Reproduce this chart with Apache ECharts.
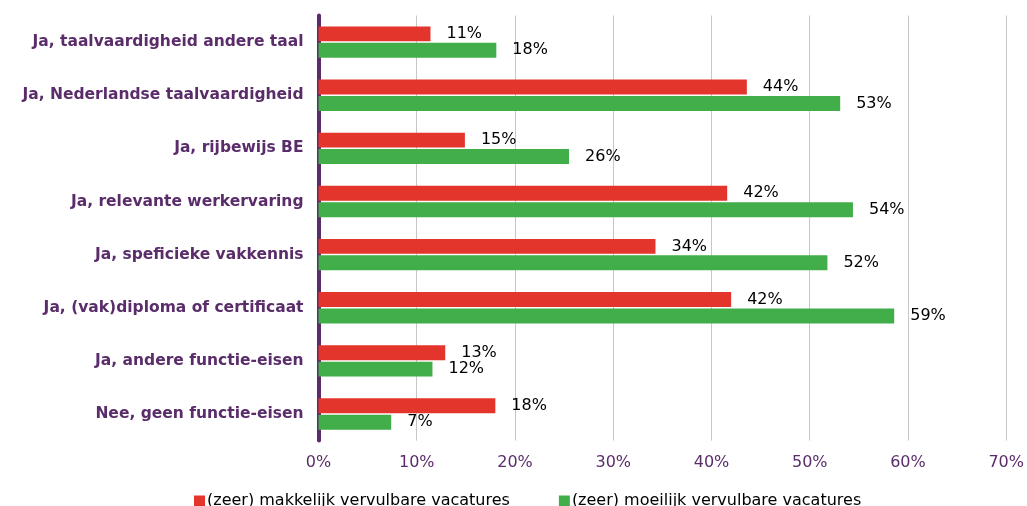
<!DOCTYPE html>
<html>
<head>
<meta charset="utf-8">
<script src="https://cdn.jsdelivr.net/npm/echarts@6/dist/echarts.min.js"></script>
<style>html,body{margin:0;padding:0;background:#fff}#c{width:1027px;height:506px}</style>
</head>
<body>
<div id="c"></div>
<script>
var categories = [
  "Ja, taalvaardigheid andere taal",
  "Ja, Nederlandse taalvaardigheid",
  "Ja, rijbewijs BE",
  "Ja, relevante werkervaring",
  "Ja, speficieke vakkennis",
  "Ja, (vak)diploma of certificaat",
  "Ja, andere functie-eisen",
  "Nee, geen functie-eisen"
];
var seriesNames = ["(zeer) makkelijk vervulbare vacatures", "(zeer) moeilijk vervulbare vacatures"];
var easyValues = [11.4, 43.6, 14.9, 41.6, 34.3, 42.0, 12.9, 18.0];
var hardValues = [18.1, 53.1, 25.5, 54.4, 51.8, 58.6, 11.6, 7.4];
var xTicks = [0, 10, 20, 30, 40, 50, 60, 70];

var FONT = "'DejaVu Sans', Verdana, sans-serif";
var purple = "#5a2d6a";
var chart = echarts.init(document.getElementById('c'), null, {renderer: 'canvas'});
var labelCfg = {
  show: true, position: 'right', distance: 16,
  color: '#000', fontFamily: FONT, fontSize: 16,
  formatter: function (p) { return Math.round(p.value) + '%'; }
};
chart.setOption({
  animation: false,
  grid: {left: 318.5, right: 19, top: 15.5, bottom: 65.4, containLabel: false},
  legend: {
    data: seriesNames, left: 189, top: 488, itemWidth: 11, itemHeight: 11, itemGap: 49,
    icon: 'rect',
    textStyle: {fontFamily: FONT, fontSize: 16, color: '#000', padding: [0, 0, 0, -3]}
  },
  xAxis: {
    type: 'value', min: xTicks[0], max: xTicks[xTicks.length - 1], interval: 10,
    axisLine: {show: false}, axisTick: {show: false},
    splitLine: {show: true, lineStyle: {color: '#c6c6c6', width: 1}},
    axisLabel: {formatter: '{value}%', color: purple, fontFamily: FONT, fontSize: 16, margin: 14}
  },
  yAxis: {
    type: 'category', data: categories, inverse: true,
    axisLine: {show: true, lineStyle: {color: purple, width: 4}},
    axisTick: {show: false},
    axisLabel: {color: purple, fontFamily: FONT, fontWeight: 'bold', fontSize: 15.5, margin: 15}
  },
  series: [
    {name: seriesNames[0], type: 'bar', data: easyValues, itemStyle: {color: '#e3352b'},
     barCategoryGap: '41%', barGap: '10%', label: labelCfg},
    {name: seriesNames[1], type: 'bar', data: hardValues, itemStyle: {color: '#42ae4a'},
     barCategoryGap: '41%', barGap: '10%', label: labelCfg}
  ]
});
</script>
</body>
</html>
